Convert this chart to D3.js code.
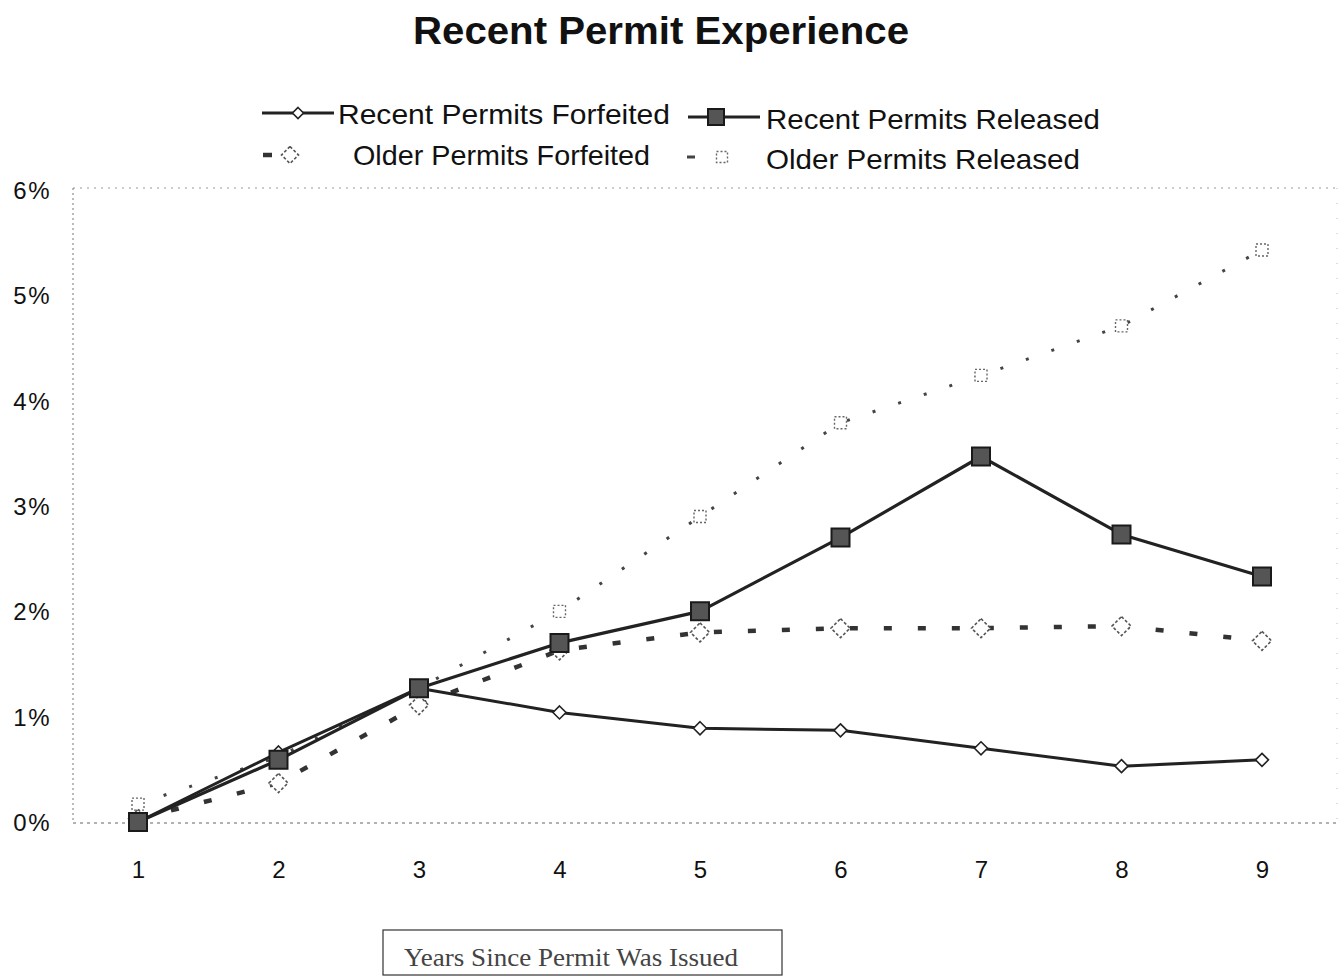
<!DOCTYPE html>
<html>
<head>
<meta charset="utf-8">
<script src="https://cdn.jsdelivr.net/npm/d3@7/dist/d3.min.js"></script>
<style>
  html, body { margin: 0; padding: 0; background: #fff; }
  svg { display: block; }
</style>
</head>
<body>
<svg id="chart" width="1340" height="978"></svg>
<script>
// Years since a permit was issued
const years = [1, 2, 3, 4, 5, 6, 7, 8, 9];

// Cumulative share of permits (fractions)
const recentForfeited = [0.0000, 0.0066, 0.0127, 0.0104, 0.0089, 0.0087, 0.0070, 0.0053, 0.0059];
const recentReleased  = [0.0000, 0.0059, 0.0127, 0.0170, 0.0200, 0.0270, 0.0347, 0.0273, 0.0233];
const olderForfeited  = [0.0003, 0.0037, 0.0111, 0.0163, 0.0180, 0.0184, 0.0184, 0.0186, 0.0172];
const olderReleased   = [0.0017, 0.0062, 0.0127, 0.0200, 0.0290, 0.0379, 0.0424, 0.0471, 0.0543];

const yTicks = [0, 0.01, 0.02, 0.03, 0.04, 0.05, 0.06];

const seriesNames = [
  "Recent Permits Forfeited",
  "Recent Permits Released",
  "Older Permits Forfeited",
  "Older Permits Released"
];

const svg = d3.select("#chart");
const plot = { left: 73, right: 1337, top: 188, bottom: 823 };

const x = d3.scalePoint().domain(years).range([138, 1262]);
const y = d3.scaleLinear().domain([0, 0.06]).range([822, 190]);

const sans = "Liberation Sans, Arial, sans-serif";

// Title
svg.append("text")
  .attr("x", 661).attr("y", 44)
  .attr("text-anchor", "middle")
  .attr("font-family", sans)
  .attr("font-weight", "bold")
  .attr("font-size", 38)
  .attr("textLength", 496)
  .attr("lengthAdjust", "spacingAndGlyphs")
  .attr("fill", "#111")
  .text("Recent Permit Experience");

// Plot frame (faint dotted)
const frame = svg.append("g").attr("fill", "none");
frame.append("line").attr("x1", plot.left).attr("x2", plot.right).attr("y1", plot.top).attr("y2", plot.top)
  .attr("stroke", "#999").attr("stroke-width", 1).attr("stroke-dasharray", "2,5");
frame.append("line").attr("x1", plot.left).attr("x2", plot.left).attr("y1", plot.top).attr("y2", plot.bottom)
  .attr("stroke", "#777").attr("stroke-width", 1).attr("stroke-dasharray", "2,3");
frame.append("line").attr("x1", plot.right).attr("x2", plot.right).attr("y1", plot.top).attr("y2", plot.bottom)
  .attr("stroke", "#bbb").attr("stroke-width", 1).attr("stroke-dasharray", "1,14");
frame.append("line").attr("x1", plot.left).attr("x2", plot.right).attr("y1", plot.bottom).attr("y2", plot.bottom)
  .attr("stroke", "#666").attr("stroke-width", 1.2).attr("stroke-dasharray", "3,4");

// Y axis labels
const yAxis = svg.append("g")
  .attr("transform", "translate(51,0)")
  .call(d3.axisLeft(y).tickValues(yTicks).tickFormat(d3.format(".0%")).tickSize(0).tickPadding(0));
yAxis.select(".domain").remove();
yAxis.selectAll("text")
  .attr("font-family", sans)
  .attr("font-size", 24)
  .attr("letter-spacing", 1.5)
  .attr("fill", "#111")
  .attr("dy", "0.35em");

// X axis labels
const xAxis = svg.append("g")
  .attr("transform", "translate(0,861)")
  .call(d3.axisBottom(x).tickSize(0).tickPadding(0));
xAxis.select(".domain").remove();
xAxis.selectAll("text")
  .attr("font-family", sans)
  .attr("font-size", 24)
  .attr("fill", "#111")
  .attr("dy", "0.71em");

// Axis title box
svg.append("rect")
  .attr("x", 383).attr("y", 930).attr("width", 399).attr("height", 45)
  .attr("fill", "#fff").attr("stroke", "#333").attr("stroke-width", 1.2);
svg.append("text")
  .attr("x", 404).attr("y", 966)
  .attr("font-family", "Liberation Serif, Times New Roman, serif")
  .attr("font-size", 25)
  .attr("textLength", 334)
  .attr("lengthAdjust", "spacingAndGlyphs")
  .attr("fill", "#444")
  .text("Years Since Permit Was Issued");

// Series styles
const styles = [
  { values: recentForfeited, stroke: "#222", width: 3, dash: null, marker: "diamond", size: 13, mFill: "#fff", mStroke: "#222", mWidth: 1.6 },
  { values: recentReleased, stroke: "#222", width: 3.2, dash: null, marker: "square", size: 18, mFill: "#555", mStroke: "#1a1a1a", mWidth: 2 },
  { values: olderForfeited, stroke: "#333", width: 4.5, dash: "8,26", marker: "diamond", size: 19, mFill: "#fff", mStroke: "#555", mWidth: 1.6, mDash: "3,2" },
  { values: olderReleased, stroke: "#444", width: 3, dash: "3,24", marker: "square", size: 12, mFill: "#fff", mStroke: "#666", mWidth: 1.4, mDash: "2,2" }
];

const line = d3.line().x((d, i) => x(years[i])).y(d => y(d));

function markerPath(type, s) {
  const h = s / 2;
  if (type === "diamond") return `M0,${-h}L${h},0L0,${h}L${-h},0Z`;
  return `M${-h},${-h}H${h}V${h}H${-h}Z`;
}

// Older series sit beneath the recent series
const order = [3, 2, 0, 1];
order.forEach(k => {
  const s = styles[k];
  const g = svg.append("g").attr("class", "series-" + k);
  g.append("path")
    .datum(s.values)
    .attr("d", line)
    .attr("fill", "none")
    .attr("stroke", s.stroke)
    .attr("stroke-width", s.width)
    .attr("stroke-dasharray", s.dash)
    .attr("stroke-linejoin", "round");
  g.selectAll("path.mk")
    .data(s.values)
    .join("path")
    .attr("class", "mk")
    .attr("transform", (d, i) => `translate(${x(years[i])},${y(d)})`)
    .attr("d", markerPath(s.marker, s.size))
    .attr("fill", s.mFill)
    .attr("stroke", s.mStroke)
    .attr("stroke-width", s.mWidth)
    .attr("stroke-dasharray", s.mDash || null);
});

// Legend
const legendItems = [
  { k: 0, sx: 262, ex: 334, mx: 298, cy: 113, ty: 124, tx: 338, tw: 332 },
  { k: 1, sx: 688, ex: 760, mx: 716, cy: 117, ty: 129, tx: 766, tw: 334 },
  { k: 2, sx: 263, ex: 272, mx: 290, cy: 155, ty: 165, tx: 353, tw: 297 },
  { k: 3, sx: 687, ex: 695, mx: 722, cy: 157, ty: 169, tx: 766, tw: 314 }
];
const legend = svg.append("g");
legendItems.forEach(it => {
  const s = styles[it.k];
  legend.append("line")
    .attr("x1", it.sx).attr("x2", it.ex).attr("y1", it.cy).attr("y2", it.cy)
    .attr("stroke", s.stroke).attr("stroke-width", it.k === 3 ? 3 : s.width);
  legend.append("path")
    .attr("transform", `translate(${it.mx},${it.cy})`)
    .attr("d", markerPath(s.marker, it.k === 3 ? 11 : s.size - 2))
    .attr("fill", s.mFill)
    .attr("stroke", s.mStroke)
    .attr("stroke-width", s.mWidth)
    .attr("stroke-dasharray", s.mDash || null);
  legend.append("text")
    .attr("x", it.tx).attr("y", it.ty)
    .attr("font-family", sans)
    .attr("font-size", 28)
    .attr("textLength", it.tw)
    .attr("lengthAdjust", "spacingAndGlyphs")
    .attr("fill", "#111")
    .text(seriesNames[it.k]);
});
</script>
</body>
</html>
